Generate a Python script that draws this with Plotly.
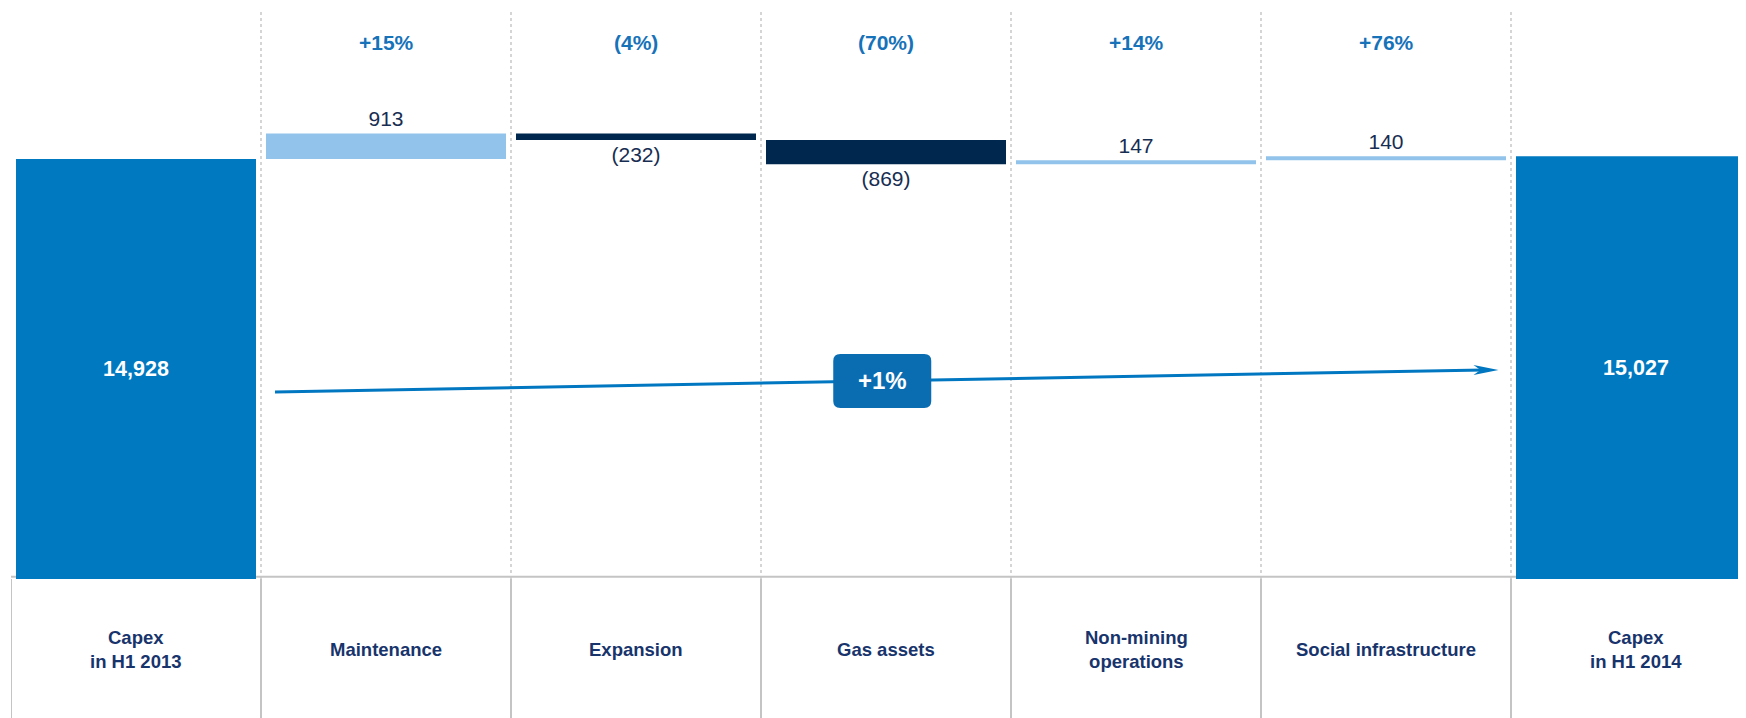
import plotly.graph_objects as go

# data
categories = [
    "Capex<br>in H1 2013",
    "Maintenance",
    "Expansion",
    "Gas assets",
    "Non-mining<br>operations",
    "Social infrastructure",
    "Capex<br>in H1 2014",
]
measures = ["absolute", "relative", "relative", "relative", "relative", "relative", "total"]
values = [14928, 913, -232, -869, 147, 140, 0]
total_end = 15027
pct_changes = ["", "+15%", "(4%)", "(70%)", "+14%", "+76%", ""]
overall_change = "+1%"

FONT = "Liberation Sans, Arial, sans-serif"
NAVY = "#00284F"
TEXT_NAVY = "#172D52"
CAT_NAVY = "#18346C"
TOTAL_BLUE = "#0079C1"
LIGHT_BLUE = "#92C3EA"
PCT_BLUE = "#1672B9"
ARROW_BLUE = "#0077C0"
GRID = "#C8C8C8"


def fmt(v, bold=False):
    s = f"{abs(v):,}"
    if v < 0:
        s = f"({s})"
    return f"<b>{s}</b>" if bold else s


texts = []
positions = []
for m, v in zip(measures, values):
    if m == "absolute":
        texts.append(fmt(v, True))
        positions.append("inside")
    elif m == "total":
        texts.append(fmt(total_end, True))
        positions.append("inside")
    else:
        texts.append(fmt(v))
        positions.append("outside")

x_idx = list(range(len(categories)))

fig = go.Figure()
fig.add_trace(
    go.Waterfall(
        x=x_idx,
        y=values,
        measure=measures,
        text=texts,
        textposition=positions,
        insidetextanchor="middle",
        insidetextfont=dict(family=FONT, size=21.5, color="white"),
        outsidetextfont=dict(family=FONT, size=21, color=TEXT_NAVY),
        constraintext="none",
        cliponaxis=False,
        width=0.96,
        connector=dict(visible=False),
        increasing=dict(marker=dict(color=LIGHT_BLUE)),
        decreasing=dict(marker=dict(color=NAVY)),
        totals=dict(marker=dict(color=TOTAL_BLUE)),
        hoverinfo="skip",
        showlegend=False,
    )
)

shapes = []
# dotted separators above the table
for i in range(len(categories) - 1):
    shapes.append(dict(type="line", xref="x", yref="paper", x0=i + 0.5, x1=i + 0.5,
                       y0=0, y1=0.995, line=dict(color=GRID, width=1.5, dash="dot"),
                       layer="below"))
# table grid below the bars
for i in range(len(categories)):
    shapes.append(dict(type="line", xref="x", yref="paper", x0=i - 0.5, x1=i - 0.5,
                       y0=0, y1=-0.25, line=dict(color="#C4C4C4", width=2)))
shapes.append(dict(type="line", xref="x", yref="paper", x0=-0.5, x1=6.5, y0=0.004, y1=0.004,
                   line=dict(color="#C4C4C4", width=2), layer="below"))

# overall change arrow
arrow_x0, arrow_y0 = 0.556, 6650
arrow_x1, arrow_y1 = 5.45, 7430
shapes.append(dict(type="line", xref="x", yref="y", x0=arrow_x0, y0=arrow_y0,
                   x1=arrow_x1 - 0.06, y1=arrow_y1, line=dict(color=ARROW_BLUE, width=3)))
shapes.append(dict(type="path", xref="x", yref="y", xsizemode="pixel", ysizemode="pixel",
                   xanchor=arrow_x1, yanchor=arrow_y1,
                   path="M 0,0 L -25,-5 L -18,0 L -25,5 Z",
                   fillcolor=ARROW_BLUE, line=dict(width=0)))

# label box on the arrow
box_x, box_y = 2.985, (arrow_y0 + arrow_y1) / 2
w, h, r = 49, 27, 7
path = (f"M {-w + r},{-h} L {w - r},{-h} Q {w},{-h} {w},{-h + r} L {w},{h - r} "
        f"Q {w},{h} {w - r},{h} L {-w + r},{h} Q {-w},{h} {-w},{h - r} "
        f"L {-w},{-h + r} Q {-w},{-h} {-w + r},{-h} Z")
shapes.append(dict(type="path", xref="x", yref="y", xsizemode="pixel", ysizemode="pixel",
                   xanchor=box_x, yanchor=box_y, path=path,
                   fillcolor="#0A6DB2", line=dict(width=0), layer="above"))

annotations = []
annotations.append(dict(x=box_x, y=box_y, xref="x", yref="y", text=f"<b>{overall_change}</b>",
                        showarrow=False, font=dict(family=FONT, size=24, color="white")))

for i, (cat, pct) in enumerate(zip(categories, pct_changes)):
    annotations.append(dict(x=i, y=-0.123, xref="x", yref="paper", text=f"<b>{cat}</b>",
                            showarrow=False, yanchor="middle",
                            font=dict(family=FONT, size=18.5, color=CAT_NAVY)))
    if pct:
        annotations.append(dict(x=i, y=0.940, xref="x", yref="paper", text=f"<b>{pct}</b>",
                                showarrow=False, yanchor="middle",
                                font=dict(family=FONT, size=21, color=PCT_BLUE)))

fig.update_layout(
    width=1738,
    height=710,
    template="plotly_white",
    paper_bgcolor="white",
    plot_bgcolor="white",
    margin=dict(l=3, r=0, t=0, b=139),
    xaxis=dict(range=[-0.5, 6.44], showgrid=False, zeroline=False, showticklabels=False,
               showline=False, ticks=""),
    yaxis=dict(range=[0, 20298], showgrid=False, zeroline=False, showticklabels=False,
               showline=False, ticks=""),
    shapes=shapes,
    annotations=annotations,
    showlegend=False,
)

fig.write_html("out.html")
